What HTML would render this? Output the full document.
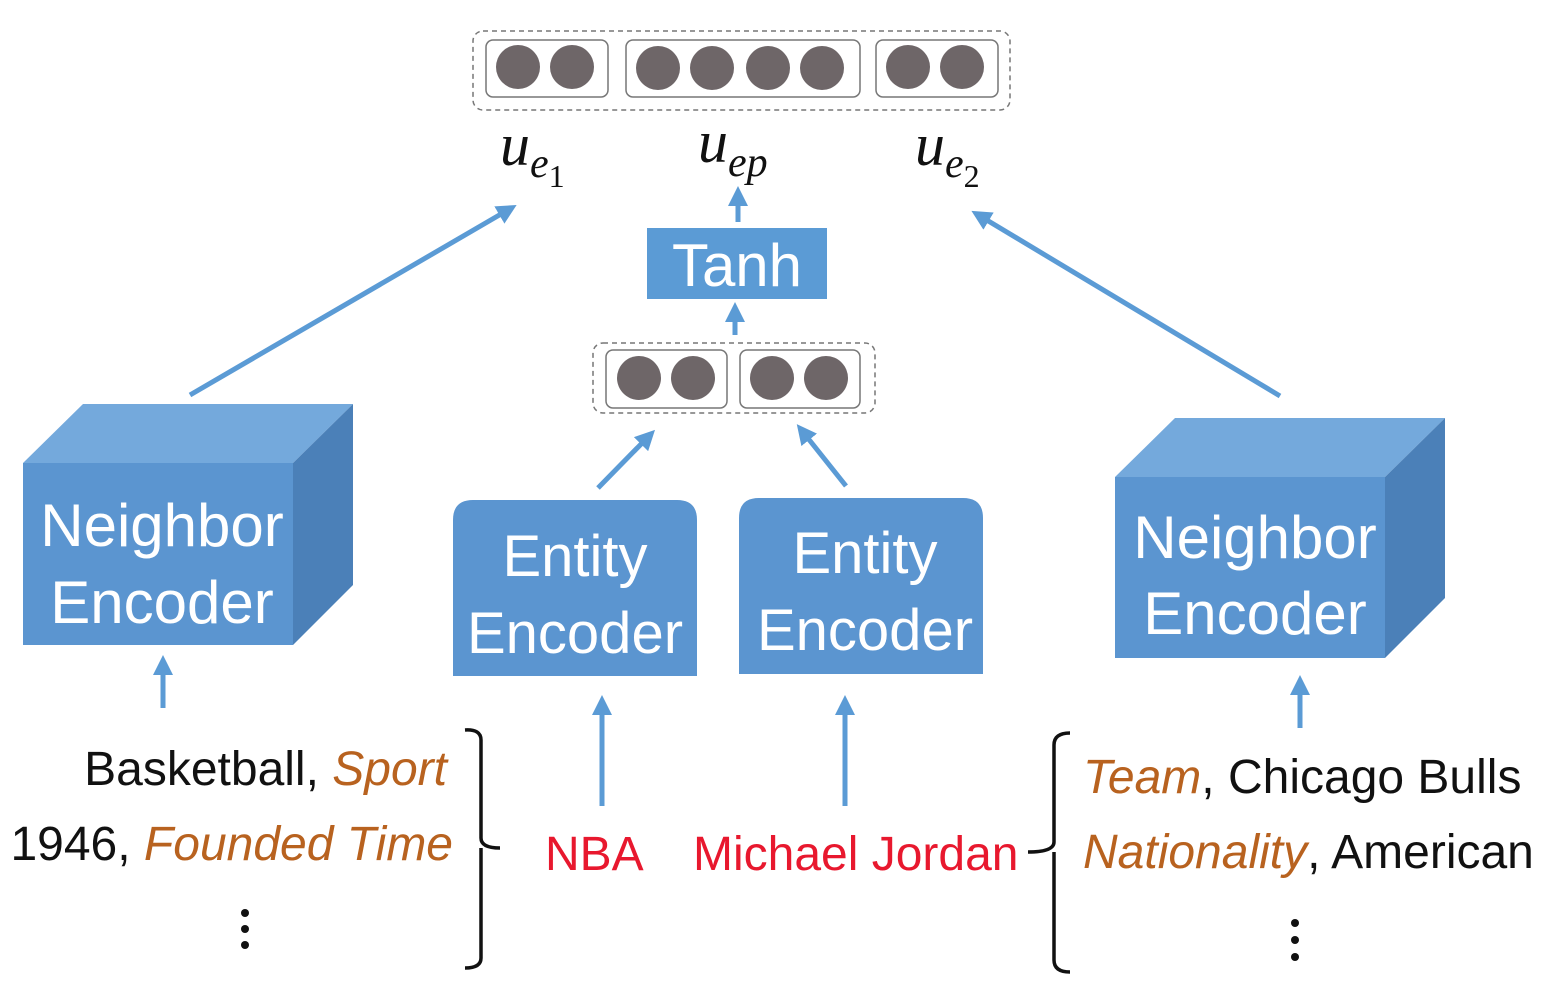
<!DOCTYPE html>
<html><head><meta charset="utf-8"><style>
html,body{margin:0;padding:0;background:#fff;}
svg{display:block;}
.w{fill:#fff;font-family:"Liberation Sans",sans-serif;font-size:60px;text-anchor:middle;}
.e{font-size:58px;}
.t{font-family:"Liberation Sans",sans-serif;font-size:48px;fill:#111;}
.o{fill:#b8621f;font-style:italic;}
.r{fill:#e8182e;font-family:"Liberation Sans",sans-serif;font-size:48px;}
.m{font-family:"Liberation Serif",serif;font-style:italic;font-size:60px;fill:#111;}
.s{font-size:42px;}
</style></head><body>
<svg width="1568" height="996" viewBox="0 0 1568 996" xmlns="http://www.w3.org/2000/svg">
<defs><marker id="a" markerWidth="4" markerHeight="4" refX="2" refY="2" orient="auto" markerUnits="strokeWidth"><path d="M0,0 L4,2 L0,4 z" fill="#5b9bd5"/></marker></defs>
<rect x="473" y="31" width="537" height="79" rx="10" fill="none" stroke="#777" stroke-width="1.5" stroke-dasharray="5,4"/>
<g fill="none" stroke="#777" stroke-width="1.5">
<rect x="486" y="40" width="122" height="57" rx="7"/><rect x="626" y="40" width="234" height="57" rx="7"/><rect x="876" y="40" width="122" height="57" rx="7"/>
<rect x="593" y="343" width="282" height="70" rx="10" stroke-dasharray="5,4"/>
<rect x="606" y="350" width="121" height="58" rx="7"/><rect x="740" y="350" width="120" height="58" rx="7"/>
</g>
<g fill="#6e6668">
<circle cx="518" cy="67" r="22"/><circle cx="572" cy="67" r="22"/>
<circle cx="658" cy="68" r="22"/><circle cx="712" cy="68" r="22"/><circle cx="768" cy="68" r="22"/><circle cx="822" cy="68" r="22"/>
<circle cx="908" cy="67" r="22"/><circle cx="962" cy="67" r="22"/>
<circle cx="639" cy="378" r="22"/><circle cx="693" cy="378" r="22"/><circle cx="772" cy="378" r="22"/><circle cx="826" cy="378" r="22"/>
</g>
<text class="m" x="500" y="165">u<tspan class="s" dy="12">e</tspan><tspan font-style="normal" dy="10" font-size="32">1</tspan></text>
<text class="m" x="698" y="162">u<tspan class="s" dy="14">ep</tspan></text>
<text class="m" x="915" y="165">u<tspan class="s" dy="12">e</tspan><tspan font-style="normal" dy="10" font-size="32">2</tspan></text>
<rect x="647" y="228" width="180" height="71" fill="#5b9bd5"/>
<text class="w" x="737" y="286">Tanh</text>
<g stroke="#5b9bd5" stroke-width="5" fill="none" marker-end="url(#a)">
<line x1="190" y1="395" x2="508" y2="210"/>
<line x1="1280" y1="396" x2="980" y2="216"/>
<line x1="738" y1="222" x2="738" y2="196"/>
<line x1="735" y1="335" x2="735" y2="312"/>
<line x1="598" y1="488" x2="648" y2="437"/>
<line x1="846" y1="486" x2="803" y2="432"/>
<line x1="163" y1="708" x2="163" y2="665"/>
<line x1="1300" y1="728" x2="1300" y2="685"/>
<line x1="602" y1="806" x2="602" y2="705"/>
<line x1="845" y1="806" x2="845" y2="705"/>
</g>
<polygon points="23,463 83,404 353,404 293,463" fill="#74a9dc"/>
<polygon points="293,463 353,404 353,585 293,645" fill="#4b80b8"/>
<rect x="23" y="463" width="270" height="182" fill="#5b95d0"/>
<text class="w" x="162" y="546">Neighbor</text><text class="w" x="162" y="623">Encoder</text>
<polygon points="1115,477 1175,418 1445,418 1385,477" fill="#74a9dc"/>
<polygon points="1385,477 1445,418 1445,598 1385,658" fill="#4b80b8"/>
<rect x="1115" y="477" width="270" height="181" fill="#5b95d0"/>
<text class="w" x="1255" y="558">Neighbor</text><text class="w" x="1255" y="634">Encoder</text>
<path d="M453,676 V520 Q453,500 473,500 H677 Q697,500 697,520 V676 Z" fill="#5b95d0"/>
<text class="w e" x="575" y="576">Entity</text><text class="w e" x="575" y="653">Encoder</text>
<path d="M739,674 V518 Q739,498 759,498 H963 Q983,498 983,518 V674 Z" fill="#5b95d0"/>
<text class="w e" x="865" y="573">Entity</text><text class="w e" x="865" y="650">Encoder</text>
<text class="t" x="447" y="785" text-anchor="end">Basketball, <tspan class="o">Sport</tspan></text>
<text class="t" x="453" y="860" text-anchor="end">1946, <tspan class="o">Founded Time</tspan></text>
<g fill="#111"><circle cx="245" cy="913" r="4"/><circle cx="245" cy="929" r="4"/><circle cx="245" cy="945" r="4"/>
<circle cx="1295" cy="923" r="4"/><circle cx="1295" cy="940" r="4"/><circle cx="1295" cy="957" r="4"/></g>
<g stroke="#111" stroke-width="3.5" fill="none">
<path d="M465,730 Q481,729 481,740 V838 Q481,848 500,848 M481,848 V958 Q481,968 465,968"/>
<path d="M1070,733 Q1054,733 1054,745 V842 Q1054,852 1028,852 M1054,852 V960 Q1054,972 1070,972"/>
</g>
<text class="r" x="545" y="870">NBA</text>
<text class="r" x="693" y="870">Michael Jordan</text>
<text class="t" x="1083" y="793"><tspan class="o">Team</tspan>, Chicago Bulls</text>
<text class="t" x="1083" y="868"><tspan class="o">Nationality</tspan>, American</text>
</svg>
</body></html>
